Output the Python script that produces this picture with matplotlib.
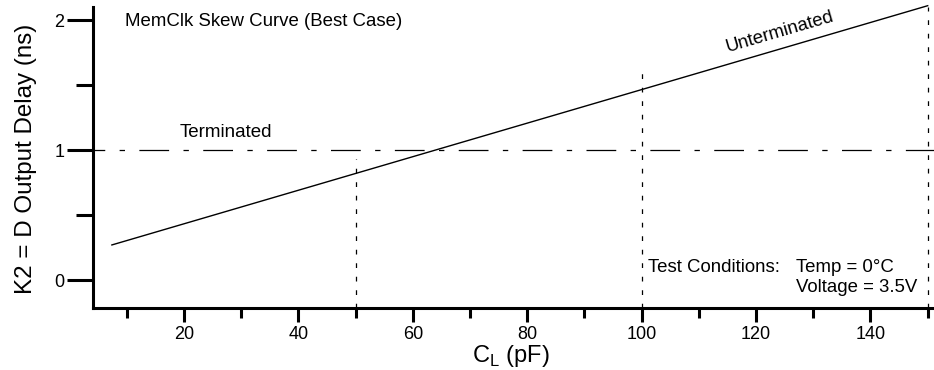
import matplotlib.pyplot as plt

plt.rcParams['font.family'] = ['Liberation Sans', 'DejaVu Sans']

# data
cl_pf = [7.4, 150]
delay_ns = [0.27, 2.11]
terminated_ns = 1.0
marker_x = [50, 100, 150]
marker_top = [0.93, 1.59, 2.10]

fig = plt.figure(figsize=(9.34, 3.70), dpi=100)
ax = fig.add_axes([93/934, 1 - 308/370, (934 - 93)/934, (308 - 7)/370])
ax.set_xlim(4.1, 151.1)
ax.set_ylim(-0.215, 2.10)

ax.plot(cl_pf, delay_ns, color='black', linewidth=1.0, clip_on=False)
ax.axhline(terminated_ns, color='black', linewidth=0.9,
           linestyle=(14.4, (23.8, 11.5, 4.3, 11.5)))
for xv, top in zip(marker_x, marker_top):
    ax.plot([xv, xv], [-0.215, top], color='black', linewidth=0.9,
            linestyle=(0, (3.8, 7.0)), clip_on=False)

for side in ['top', 'right']:
    ax.spines[side].set_visible(False)
for side in ['left', 'bottom']:
    ax.spines[side].set_linewidth(2.2)

ax.set_xticks([20, 40, 60, 80, 100, 120, 140])
ax.set_xticks([10, 30, 50, 70, 90, 110, 130, 150], minor=True)
ax.set_yticks([0, 1, 2])
ax.set_yticks([0.5, 1.5], minor=True)
ax.tick_params(axis='x', which='major', length=10, width=2.2, labelsize=13, pad=3)
ax.tick_params(axis='x', which='minor', length=7.2, width=2.2)
ax.tick_params(axis='y', which='major', length=18.7, width=2.2, labelsize=13, pad=2)
ax.tick_params(axis='y', which='minor', length=12, width=2.2)

fig.text(511/934, 1 - 362/370, 'C$_\\mathregular{L}$ (pF)', fontsize=17,
         ha='center', va='baseline')
fig.text(26/934, 1 - 159/370, 'K2 = D Output Delay (ns)', fontsize=17.4,
         rotation=90, ha='center', va='center')

ax.text(9.7, 1.99, 'MemClk Skew Curve (Best Case)', fontsize=13.4,
        ha='left', va='center')
ax.text(27.4, 1.10, 'Terminated', fontsize=13.5, ha='center', va='baseline')
ax.text(124.2, 1.91, 'Unterminated', fontsize=13.4, ha='center', va='center',
        rotation=16.3, rotation_mode='anchor')
ax.text(101.1, 0.10, 'Test Conditions:', fontsize=13.4, ha='left', va='center')
ax.text(127, 0.10, 'Temp = 0°C', fontsize=13.4, ha='left', va='center')
ax.text(127, -0.06, 'Voltage = 3.5V', fontsize=13.4, ha='left', va='center')

fig.savefig('out.png', dpi=100)
